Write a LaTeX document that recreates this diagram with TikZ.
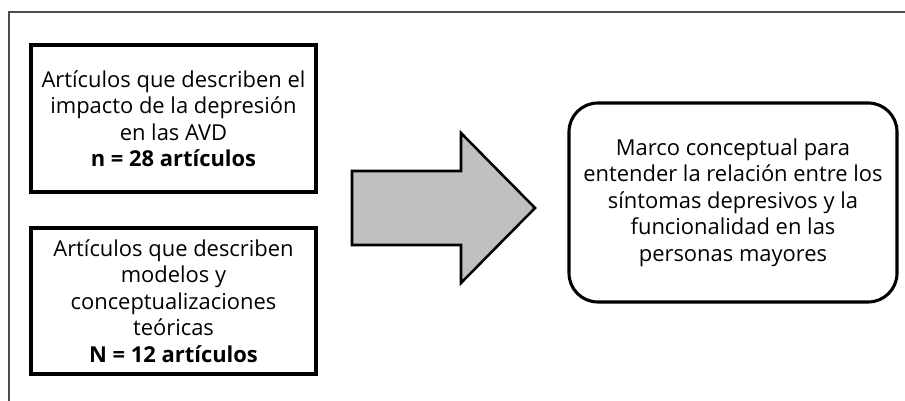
\documentclass[tikz,border=0pt]{standalone}
\usepackage{fontspec}
\setmainfont{Open Sans}
\definecolor{arrowgray}{RGB}{192,192,192}
\begin{document}
\begin{tikzpicture}[every node/.style={font=\fontsize{15.6}{18.8}\selectfont, align=center},
    caja/.style={draw, line width=2.2pt, minimum width=7.125cm, inner sep=0pt},
    marcobox/.style={draw, line width=2.2pt, rounded corners=0.72cm, minimum width=8.2cm, minimum height=4.975cm}]
        \useasboundingbox (0,0) rectangle (22.625,10.025);
        \draw[black!70, line width=0.8pt] (0.225,0) -- (0.225,9.725) -- (22.625,9.725);
        \node[caja, minimum height=3.675cm] (avd) at (4.3375,7.0625) {Artículos que describen el\\impacto de la depresión\\en las AVD\\\textbf{n = 28 artículos}};
        \node[caja, minimum height=3.65cm] (modelos) at (4.3375,2.5) {Artículos que describen\\modelos y\\conceptualizaciones\\teóricas\\\textbf{N = 12 artículos}};
        \draw[line width=1.8pt, fill=arrowgray, line join=miter] (8.8,5.75) -- (11.525,5.75) -- (11.525,6.7) -- (13.375,4.825)
            -- (11.525,2.95) -- (11.525,3.9) -- (8.8,3.9) -- cycle;
        \node[marcobox] (marco) at (18.325,4.9625) {Marco conceptual para\\entender la relación entre los\\síntomas depresivos y la\\funcionalidad en las\\personas mayores};
\end{tikzpicture}
\end{document}
